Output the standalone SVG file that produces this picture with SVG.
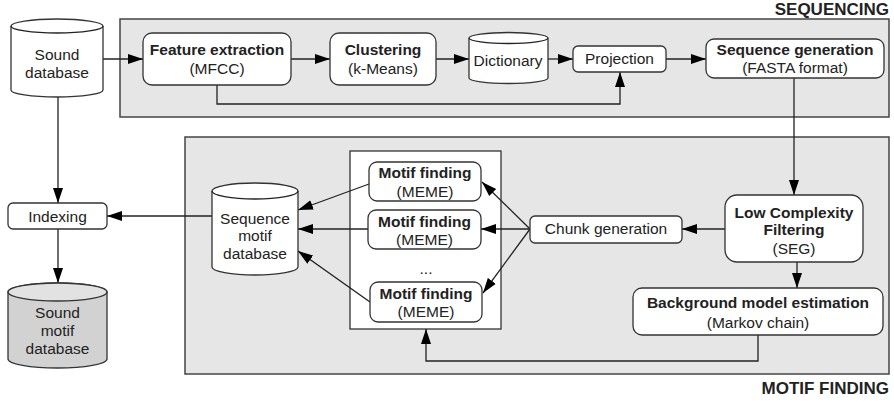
<svg xmlns="http://www.w3.org/2000/svg" width="894" height="402" viewBox="0 0 894 402">
  <style>
    text { font-family: "Liberation Sans", Arial, sans-serif; font-size: 15.5px; fill: #222; text-anchor: middle; }
    .b { font-weight: bold; }
    .title { font-weight: bold; font-size: 17px; text-anchor: end; }
    .stage { fill: #e6e6e6; stroke: #444; stroke-width: 1.5; }
    .node { fill: #fff; stroke: #333; stroke-width: 1.3; }
    .dark { fill: #d2d2d2; stroke: #333; stroke-width: 1.3; }
    .edge { fill: none; stroke: #222; stroke-width: 1.3; marker-end: url(#arrow); }
    .line { fill: none; stroke: #222; stroke-width: 1.3; }
  </style>
  <defs>
    <marker id="arrow" markerUnits="userSpaceOnUse" markerWidth="16" markerHeight="12" viewBox="0 0 16 12" refX="15" refY="6" orient="auto">
      <path d="M0,1 L15,6 L0,11 Z" fill="#000"/>
    </marker>
  </defs>

  <!-- stage panels -->
  <g id="sequencing-stage">
    <rect class="stage" x="120" y="19" width="769" height="98"/>
    <text class="title" x="889" y="15">SEQUENCING</text>
  </g>
  <g id="motif-finding-stage">
    <rect class="stage" x="185" y="137" width="704" height="237"/>
    <text class="title" x="889" y="394">MOTIF FINDING</text>
  </g>
  <!-- container holding the parallel MEME runs -->
  <g id="motif-finding-group">
    <rect fill="#fff" stroke="#333" stroke-width="1.3" x="350" y="151" width="151" height="178"/>
    <text x="426" y="274">...</text>
  </g>

  <!-- connectors -->
  <g id="connectors">
    <path class="edge" d="M103,59 H143"/>
    <path class="edge" d="M291,59 H330"/>
    <path class="edge" d="M436,59 H469"/>
    <path class="edge" d="M548,59 H573"/>
    <path class="edge" d="M666,59 H706"/>
    <path class="edge" d="M217,85 V104 H620 V72"/>
    <path class="edge" d="M794,78 V195"/>
    <path class="edge" d="M725,229 H682"/>
    <path class="edge" d="M530,229 L482,182"/>
    <path class="edge" d="M530,229 H481"/>
    <path class="edge" d="M530,229 L483,293"/>
    <path class="edge" d="M369,184 L298,210"/>
    <path class="edge" d="M368,229 H298"/>
    <path class="edge" d="M370,302 L298,251"/>
    <path class="edge" d="M212,216 H107"/>
    <path class="edge" d="M58,97 V203"/>
    <path class="edge" d="M58,229 V283"/>
    <path class="edge" d="M797,262 V288"/>
    <path class="edge" d="M758,335 V361 H426 V329"/>
  </g>

  <!-- nodes -->
  <g id="sound-database">
    <path class="node" d="M11,26 A46,7 0 0 1 103,26 V90 A46,7 0 0 1 11,90 Z"/>
    <path class="line" d="M11,26 A46,7 0 0 0 103,26"/>
    <text x="57" y="60">Sound</text>
    <text x="57" y="78">database</text>
  </g>
  <g id="feature-extraction">
    <rect class="node" x="143" y="33" width="148" height="52" rx="9"/>
    <text class="b" x="217" y="55">Feature extraction</text>
    <text x="217" y="74">(MFCC)</text>
  </g>
  <g id="clustering">
    <rect class="node" x="330" y="33" width="106" height="52" rx="9"/>
    <text class="b" x="383" y="55">Clustering</text>
    <text x="383" y="74">(k-Means)</text>
  </g>
  <g id="dictionary">
    <path class="node" d="M469,38 A39.5,5.5 0 0 1 548,38 V78 A39.5,5.5 0 0 1 469,78 Z"/>
    <path class="line" d="M469,38 A39.5,5.5 0 0 0 548,38"/>
    <text x="508" y="66">Dictionary</text>
  </g>
  <g id="projection">
    <rect class="node" x="573" y="46" width="93" height="26" rx="5"/>
    <text x="619.5" y="64">Projection</text>
  </g>
  <g id="sequence-generation">
    <rect class="node" x="706" y="39" width="178" height="39" rx="8"/>
    <text class="b" x="795" y="55">Sequence generation</text>
    <text x="795" y="73">(FASTA format)</text>
  </g>
  <g id="low-complexity-filtering">
    <rect class="node" x="725" y="195" width="138" height="67" rx="12"/>
    <text class="b" x="794" y="218">Low Complexity</text>
    <text class="b" x="794" y="235">Filtering</text>
    <text x="794" y="254">(SEG)</text>
  </g>
  <g id="chunk-generation">
    <rect class="node" x="530" y="216" width="152" height="27" rx="5"/>
    <text x="606" y="234">Chunk generation</text>
  </g>
  <g id="background-model-estimation">
    <rect class="node" x="633" y="288" width="250" height="47" rx="9"/>
    <text class="b" x="758" y="308">Background model estimation</text>
    <text x="758" y="328">(Markov chain)</text>
  </g>
  <g id="motif-finding-1">
    <rect class="node" x="369" y="162" width="112" height="39" rx="8"/>
    <text class="b" x="425" y="178">Motif finding</text>
    <text x="425" y="197">(MEME)</text>
  </g>
  <g id="motif-finding-2">
    <rect class="node" x="368" y="210" width="113" height="39" rx="8"/>
    <text class="b" x="424.5" y="227">Motif finding</text>
    <text x="424.5" y="245">(MEME)</text>
  </g>
  <g id="motif-finding-3">
    <rect class="node" x="370" y="282" width="112" height="40" rx="8"/>
    <text class="b" x="426" y="299">Motif finding</text>
    <text x="426" y="317">(MEME)</text>
  </g>
  <g id="sequence-motif-database">
    <path class="node" d="M212,191 A43,8 0 0 1 298,191 V267 A43,8 0 0 1 212,267 Z"/>
    <path class="line" d="M212,191 A43,8 0 0 0 298,191"/>
    <text x="255" y="224">Sequence</text>
    <text x="255" y="241">motif</text>
    <text x="255" y="259">database</text>
  </g>
  <g id="indexing">
    <rect class="node" x="8" y="203" width="99" height="26" rx="5"/>
    <text x="57.5" y="222">Indexing</text>
  </g>
  <g id="sound-motif-database">
    <path class="dark" d="M8,292 A49.5,9 0 0 1 107,292 V359 A49.5,9 0 0 1 8,359 Z"/>
    <path fill="#e2e2e2" stroke="#333" stroke-width="1.3" d="M8,292 A49.5,9 0 0 1 107,292 A49.5,9 0 0 1 8,292 Z"/>
    <text x="57.5" y="318">Sound</text>
    <text x="57.5" y="336">motif</text>
    <text x="57.5" y="354">database</text>
  </g>
</svg>
